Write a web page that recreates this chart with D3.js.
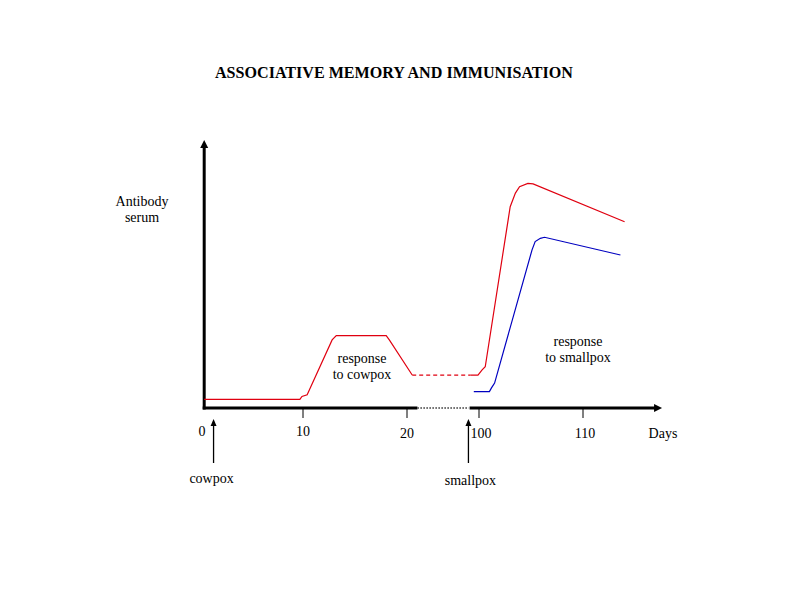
<!DOCTYPE html>
<html>
<head>
<meta charset="utf-8">
<script src="https://cdn.jsdelivr.net/npm/d3@7"></script>
<style>
html,body{margin:0;padding:0;background:#fff;}
svg{display:block;}
text{font-family:"Liberation Serif","Times New Roman",serif;fill:#000;}
</style>
</head>
<body>
<svg id="chart" width="792" height="612"></svg>
<script>
// ---- data ----
const title = "ASSOCIATIVE MEMORY AND IMMUNISATION";
const tickValues = [10, 20, 100, 110];
const tickLabels = ["10", "20", "100", "110"];
const redCowpox = [[0.5,3.2],[9.7,3.2],[9.9,4.3],[10.4,4.9],[12.8,25.4],[13.2,27.0],[18.0,27.0],[18.3,25.4],[20.5,12.3]];
const redGap = [[20.5,12.3],[99.2,12.3]];
const redSmallpox = [[99.2,12.3],[99.9,12.3],[100.3,14.2],[100.6,15.4],[103.0,75.1],[103.5,80.2],[103.9,82.6],[104.7,83.8],[105.2,83.6],[114.0,69.5]];
const blueSmallpox = [[99.5,6.1],[101.0,6.1],[101.2,7.5],[101.5,9.3],[105.1,59.0],[105.4,62.1],[105.9,63.3],[106.3,63.7],[113.6,57.1]];
const events = [{day:1.4, label:"cowpox"},{day:98.75, label:"smallpox"}];

// ---- scales (broken x axis: 0–21, gap, 99–120) ----
const x = d3.scaleLinear().domain([0, 21, 99, 120]).range([199, 417.4, 468.6, 687]);
const y = d3.scaleLinear().domain([0, 100]).range([408, 140]);
const originDay = 0.5, axisEndDay = 117.6, breakStart = 21, breakEnd = 99;
const fs = 14;

const svg = d3.select("#chart");

// title
svg.append("text").attr("x", 394).attr("y", 78).attr("text-anchor","middle")
  .attr("font-size", 16).attr("font-weight","bold")
  .attr("textLength", 358).attr("lengthAdjust","spacingAndGlyphs").text(title);

// axes
const ax = svg.append("g");
ax.append("line").attr("x1", x(originDay)).attr("x2", x(originDay))
  .attr("y1", y(0)+1.5).attr("y2", y(100)+7).attr("stroke","#000").attr("stroke-width",3);
ax.append("path").attr("d", `M${x(originDay)},${y(100)} l-4,8 l8,0 z`).attr("fill","#000");
ax.append("line").attr("x1", x(originDay)-1.5).attr("x2", x(breakStart))
  .attr("y1", y(0)).attr("y2", y(0)).attr("stroke","#000").attr("stroke-width",3);
ax.append("line").attr("x1", x(breakStart)).attr("x2", x(breakEnd))
  .attr("y1", y(0)).attr("y2", y(0)).attr("stroke","#333").attr("stroke-width",1.5)
  .attr("stroke-dasharray","1.5,1.5");
ax.append("line").attr("x1", x(breakEnd)+1).attr("x2", x(axisEndDay)-7)
  .attr("y1", y(0)).attr("y2", y(0)).attr("stroke","#000").attr("stroke-width",3);
ax.append("path").attr("d", `M${x(axisEndDay)},${y(0)} l-8,-4 l0,8 z`).attr("fill","#000");

// ticks
tickValues.forEach((v,i) => {
  ax.append("line").attr("x1", x(v)).attr("x2", x(v)).attr("y1", y(0)).attr("y2", y(0)+10)
    .attr("stroke","#000").attr("stroke-width",1);
  ax.append("text").attr("x", x(v) + (v>=100?2:0)).attr("y", v===10 ? 436 : 438)
    .attr("text-anchor","middle").attr("font-size",fs).text(tickLabels[i]);
});
ax.append("text").attr("x", x(0.3)).attr("y", 436).attr("text-anchor","middle").attr("font-size",fs).text("0");
ax.append("text").attr("x", 663).attr("y", 438).attr("text-anchor","middle").attr("font-size",fs).text("Days");

// y label
svg.append("text").attr("x", 142).attr("y", 206).attr("text-anchor","middle").attr("font-size",fs).text("Antibody");
svg.append("text").attr("x", 142).attr("y", 222).attr("text-anchor","middle").attr("font-size",fs).text("serum");

// lines
const line = d3.line().x(d => x(d[0])).y(d => y(d[1]));
const red = "#e00010", blue = "#0000c0";
svg.append("path").datum(redCowpox).attr("d", line).attr("fill","none").attr("stroke",red).attr("stroke-width",1.2);
svg.append("path").datum(redGap).attr("d", line).attr("fill","none").attr("stroke",red).attr("stroke-width",1.2).attr("stroke-dasharray","4,3");
svg.append("path").datum(redSmallpox).attr("d", line).attr("fill","none").attr("stroke",red).attr("stroke-width",1.2);
svg.append("path").datum(blueSmallpox).attr("d", line).attr("fill","none").attr("stroke",blue).attr("stroke-width",1.2);

// annotations
svg.append("text").attr("x", 362).attr("y", 363).attr("text-anchor","middle").attr("font-size",fs).text("response");
svg.append("text").attr("x", 362).attr("y", 379).attr("text-anchor","middle").attr("font-size",fs).text("to cowpox");
svg.append("text").attr("x", 578).attr("y", 346).attr("text-anchor","middle").attr("font-size",fs).text("response");
svg.append("text").attr("x", 578).attr("y", 362).attr("text-anchor","middle").attr("font-size",fs).text("to smallpox");

// event arrows
events.forEach(e => {
  const ex = x(e.day);
  svg.append("line").attr("x1", ex).attr("x2", ex).attr("y1", 463).attr("y2", 425)
    .attr("stroke","#000").attr("stroke-width",1.3);
  svg.append("path").attr("d", `M${ex},419 l-3,7 l6,0 z`).attr("fill","#000");
  svg.append("text").attr("x", ex + (e.label==="cowpox"?-2:2)).attr("y", e.label==="cowpox"?483:485)
    .attr("text-anchor","middle").attr("font-size",fs).text(e.label);
});
</script>
</body>
</html>
